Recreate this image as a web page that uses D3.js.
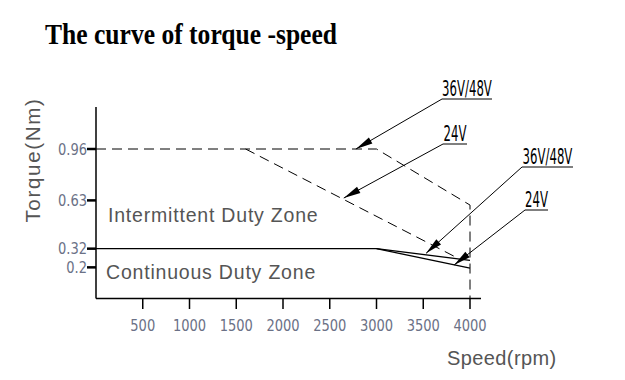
<!DOCTYPE html>
<html><head><meta charset="utf-8">
<script src="https://cdn.jsdelivr.net/npm/d3@7"></script>
<style>
body{margin:0;background:#fff;}
.narrow{font-family:"DejaVu Sans Condensed","Liberation Sans Narrow",sans-serif;}
</style>
</head><body>
<svg id="c" width="625" height="380"></svg>
<script>
const title = "The curve of torque -speed";
const xTicks = [500, 1000, 1500, 2000, 2500, 3000, 3500, 4000];
const yTicks = [0.96, 0.63, 0.32, 0.2];
const yTickLabels = ["0.96", "0.63", "0.32", "0.2"];
// intermittent (dashed) curves: [rpm, Nm]
const inter3648 = [[0, 0.96], [3000, 0.96], [4000, 0.60], [4000, 0]];
const inter24 = [[1600, 0.96], [3850, 0.265]];
// continuous (solid) curves
const cont3648 = [[0, 0.32], [3000, 0.32], [4000, 0.245]];
const cont24 = [[3000, 0.32], [4000, 0.195]];
// annotation labels: text, anchor point on curve [rpm, Nm]
const annLabels = ["36V/48V", "24V", "36V/48V", "24V"];
const annTargets = [[2780, 0.96], [2650, 0.645], [3530, 0.29], [3830, 0.215]];

const svg = d3.select("#c");
const x = d3.scaleLinear().domain([0, 4000]).range([96, 470]);
const y = d3.scaleLinear().domain([0, 0.96]).range([298.5, 149]);

function narrowText(g, tx, ty, str, anchor, fill, sx, fs) {
  return g.append("text").attr("class", "narrow")
    .attr("transform", `translate(${tx},${ty}) scale(${sx},1)`)
    .attr("text-anchor", anchor).attr("font-size", fs || 18).attr("fill", fill).text(str);
}

// title
svg.append("text").attr("x", 45).attr("y", 44)
  .attr("font-family", "Liberation Serif, Times New Roman, serif")
  .attr("font-weight", "bold").attr("font-size", 29).attr("fill", "#000")
  .attr("textLength", 292).attr("lengthAdjust", "spacingAndGlyphs")
  .text(title);

// axes lines
svg.append("line").attr("x1", 96).attr("x2", 96).attr("y1", 107).attr("y2", 298.5)
  .attr("stroke", "#000").attr("stroke-width", 1.5);
svg.append("line").attr("x1", 96).attr("x2", 481).attr("y1", 298.5).attr("y2", 298.5)
  .attr("stroke", "#000").attr("stroke-width", 1.5);

// x ticks
const xg = svg.append("g");
xTicks.forEach(t => {
  xg.append("line").attr("x1", x(t)).attr("x2", x(t)).attr("y1", 298.5).attr("y2", 309)
    .attr("stroke", "#000").attr("stroke-width", 1.5);
  narrowText(xg, x(t), 331, t, "middle", "#6b7186", 0.88, 16.5);
});
// y ticks
const yg = svg.append("g");
yTicks.forEach((t, i) => {
  yg.append("line").attr("x1", 87).attr("x2", 96).attr("y1", y(t)).attr("y2", y(t))
    .attr("stroke", "#000").attr("stroke-width", 2.5);
  narrowText(yg, 87, y(t) + 5.5, yTickLabels[i], "end", "#6b7186", 0.88, 16.5);
});

const line = d3.line().x(d => x(d[0])).y(d => y(d[1]));
svg.append("path").attr("d", line(inter3648)).attr("fill", "none")
  .attr("stroke", "#000").attr("stroke-width", 1).attr("stroke-dasharray", "10,6");
svg.append("path").attr("d", line(inter24)).attr("fill", "none")
  .attr("stroke", "#000").attr("stroke-width", 1).attr("stroke-dasharray", "10,6");
svg.append("path").attr("d", line(cont3648)).attr("fill", "none")
  .attr("stroke", "#000").attr("stroke-width", 1.3);
svg.append("path").attr("d", line(cont24)).attr("fill", "none")
  .attr("stroke", "#000").attr("stroke-width", 1.3);

// zone labels
svg.append("text").attr("x", 108).attr("y", 222)
  .attr("font-family", "Liberation Sans, Arial, sans-serif").attr("font-size", 19.5)
  .attr("fill", "#555").attr("letter-spacing", 0.8).text("Intermittent Duty Zone");
svg.append("text").attr("x", 106).attr("y", 279)
  .attr("font-family", "Liberation Sans, Arial, sans-serif").attr("font-size", 19.5)
  .attr("fill", "#555").attr("letter-spacing", 0.8).text("Continuous Duty Zone");

// axis titles
svg.append("text").attr("transform", "translate(40,160) rotate(-90)")
  .attr("text-anchor", "middle")
  .attr("font-family", "Liberation Sans, Arial, sans-serif").attr("font-size", 20.5)
  .attr("letter-spacing", 1.7)
  .attr("fill", "#555").text("Torque(Nm)");
svg.append("text").attr("x", 447).attr("y", 365)
  .attr("font-family", "Liberation Sans, Arial, sans-serif").attr("font-size", 20)
  .attr("letter-spacing", 0.4)
  .attr("fill", "#555").text("Speed(rpm)");

// annotations
const annPos = [[442, 99, 492], [443, 144, 467], [522, 167, 573], [525, 210, 548]];
annLabels.forEach((lab, i) => {
  const [lx, ly, rx] = annPos[i];
  const tx = x(annTargets[i][0]), ty = y(annTargets[i][1]);
  svg.append("line").attr("x1", lx).attr("x2", rx).attr("y1", ly).attr("y2", ly)
    .attr("stroke", "#000").attr("stroke-width", 1);
  svg.append("line").attr("x1", lx).attr("y1", ly).attr("x2", tx).attr("y2", ty)
    .attr("stroke", "#000").attr("stroke-width", 1);
  const ang = Math.atan2(ty - ly, tx - lx);
  const L = 17, W = 3.5;
  const bx = tx - L * Math.cos(ang), by = ty - L * Math.sin(ang);
  const px = -Math.sin(ang) * W, py = Math.cos(ang) * W;
  svg.append("path").attr("d", `M${tx},${ty}L${bx + px},${by + py}L${bx - px},${by - py}Z`)
    .attr("fill", "#000");
  narrowText(svg, (lx + rx) / 2, ly - 3, lab, "middle", "#000", 0.62, 21);
});
</script>
</body></html>
